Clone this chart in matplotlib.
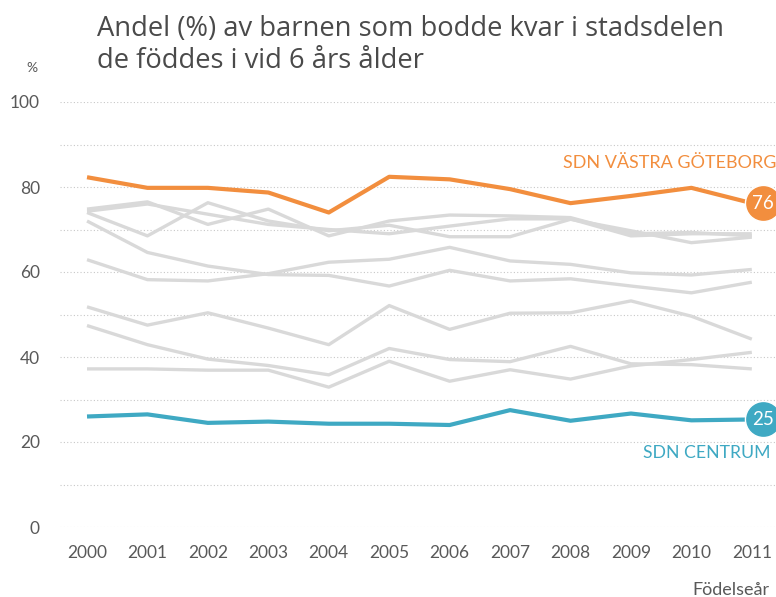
import matplotlib
matplotlib.use("Agg")
import matplotlib.pyplot as plt
from matplotlib.transforms import offset_copy

years = [2000, 2001, 2002, 2003, 2004, 2005, 2006, 2007, 2008, 2009, 2010, 2011]

vastra = [82.3, 79.8, 79.8, 78.7, 74.0, 82.4, 81.8, 79.5, 76.2, 77.9, 79.8, 76.2]
centrum = [26.0, 26.5, 24.5, 24.8, 24.3, 24.3, 24.0, 27.5, 25.0, 26.7, 25.1, 25.3]

# other districts (grey)
others = [
    [74.8, 76.5, 71.2, 74.8, 68.5, 72.0, 73.4, 73.2, 72.8, 69.0, 69.3, 68.5],
    [74.0, 68.5, 76.3, 72.0, 69.7, 71.0, 68.3, 68.3, 72.4, 69.7, 66.9, 68.2],
    [74.3, 76.0, 73.6, 71.2, 70.0, 69.0, 70.8, 72.5, 72.5, 68.5, 69.0, 69.0],
    [72.0, 64.6, 61.4, 59.4, 59.2, 56.7, 60.4, 57.9, 58.4, 56.7, 55.1, 57.6],
    [62.9, 58.2, 57.9, 59.6, 62.3, 63.0, 65.8, 62.6, 61.8, 59.8, 59.3, 60.6],
    [51.8, 47.5, 50.4, 46.8, 42.9, 52.1, 46.5, 50.3, 50.4, 53.2, 49.6, 44.2],
    [47.4, 42.9, 39.5, 38.0, 35.8, 42.0, 39.4, 38.9, 42.5, 38.4, 38.2, 37.2],
    [37.2, 37.2, 36.9, 36.9, 32.9, 39.0, 34.3, 37.0, 34.8, 37.9, 39.4, 41.1],
]

yticks = [0, 20, 40, 60, 80, 100]

orange = '#F28E3E'
blue = '#3FA9C3'
grey = '#D9D9D9'
text_col = '#595959'

fig = plt.figure(figsize=(7.76, 5.97), dpi=100)
ax = fig.add_axes([60 / 776, 70 / 597, 716 / 776, 425 / 597])

for s in others:
    ax.plot(years, s, color=grey, lw=2.4, solid_capstyle='butt', zorder=2)
ax.plot(years, vastra, color=orange, lw=3.0, solid_capstyle='butt', zorder=3)
ax.plot(years, centrum, color=blue, lw=3.0, solid_capstyle='butt', zorder=3)

ax.set_xlim(1999.553, 2011.4)
ax.set_ylim(0, 100)
ax.set_xticks(years)
ax.set_yticks(yticks)
ax.set_yticks(range(0, 101, 10), minor=True)
ax.grid(axis='y', which='both', color='#C8C8C8', lw=0.8, ls=(0, (1, 2)))
ax.tick_params(length=0, which='both', labelsize=12.5, labelcolor=text_col)
ax.tick_params(axis='y', pad=14.5)
ax.tick_params(axis='x', pad=13)
for sp in ax.spines.values():
    sp.set_visible(False)
ax.set_axisbelow(True)

# end-point bubbles
off = offset_copy(ax.transData, fig=fig, x=8, y=0, units='points')
for vals, c in [(vastra, orange), (centrum, blue)]:
    ax.plot(years[-1], vals[-1], 'o', ms=26, color=c, mec='white', mew=1.0,
            transform=off, clip_on=False, zorder=5)
    ax.text(years[-1], vals[-1], f"{round(vals[-1])}", transform=off, color='white',
            fontsize=13.5, ha='center', va='center', zorder=6, clip_on=False,
            family='Lato')

ax.text(1.0, 85.7, 'SDN VÄSTRA GÖTEBORG', transform=ax.get_yaxis_transform(),
        color=orange, fontsize=13, ha='right', va='center', family='Lato')
ax.text(0.992, 17.4, 'SDN CENTRUM', transform=ax.get_yaxis_transform(),
        color=blue, fontsize=12.7, ha='right', va='center', family='Lato')

fig.text(97 / 776, 1 - 45 / 597, 'Andel (%) av barnen som bodde kvar i stadsdelen\nde föddes i vid 6 års ålder',
         fontsize=19.7, color='#4A4A4A', ha='left', va='center', linespacing=1.2,
         family='Open Sans')
fig.text(32 / 776, 1 - 68 / 597, '%', fontsize=10, color=text_col, ha='center', va='center',
         family='Lato')
fig.text(770 / 776, 1 - 590 / 597, 'Födelseår', fontsize=13, color=text_col, ha='right', va='center',
         family='Lato')

for t in ax.get_xticklabels() + ax.get_yticklabels():
    t.set_family('Lato')

fig.savefig('out.png', dpi=100)
